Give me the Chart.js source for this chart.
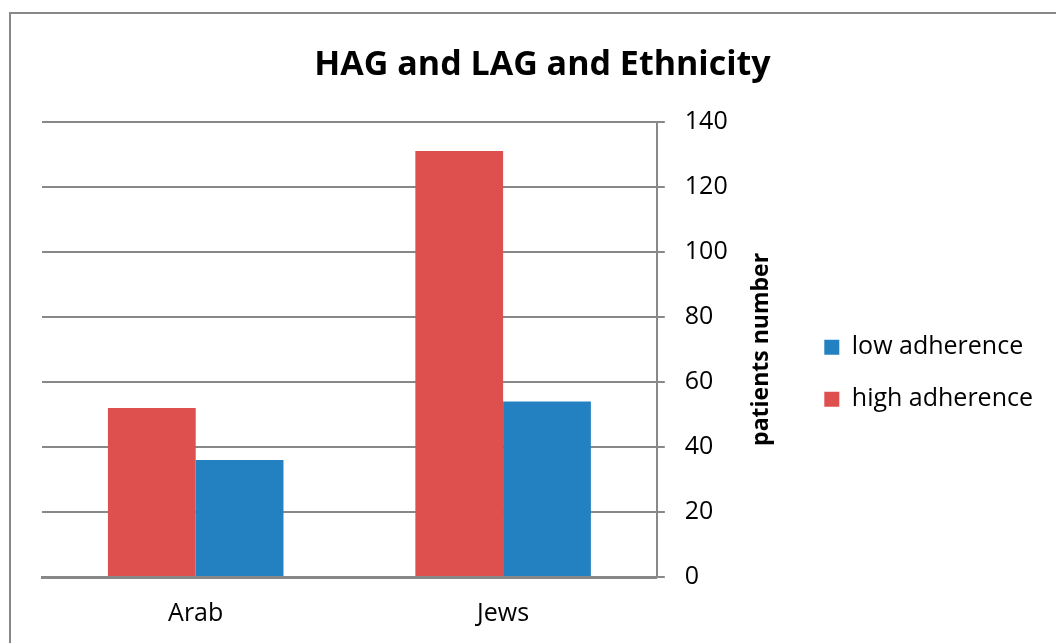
<!DOCTYPE html>
<html lang=en>
<head>
<meta charset=UTF-8>
<title>HAG and LAG and Ethnicity</title>
<style>
    * { margin: 0; padding: 0; }
    body { background: #fff; width: 1056px; height: 643px; overflow: hidden; position: relative; }
    .frame { position: absolute; left: 9px; top: 12px; width: 1100px; height: 700px; border: 2px solid #888; }
    .box { position: absolute; left: 0; top: 0; width: 1056px; height: 643px; }
</style>
</head>
<body>
<div class=frame></div>
<div class=box><canvas id="myChart" width="1056" height="643"></canvas></div>
<script src="https://cdn.jsdelivr.net/npm/chart.js"></script>
<script>
    const categories = ['Arab', 'Jews'];
    const highAdherence = [52, 131];
    const lowAdherence = [36, 54];
    const yMin = 0, yMax = 140, yStep = 20;

    const font = '"Open Sans", sans-serif';
    const gray = '#888888';
    const yTitleSize = 23, yTitlePad = 22;

    // right axis title reads bottom-to-top in the original, Chart.js rotates it the other way
    const yTitle = {
        id: 'yTitle',
        afterDraw(chart) {
            const s = chart.scales.y;
            const ctx = chart.ctx;
            ctx.save();
            ctx.font = 'bold ' + yTitleSize + 'px ' + font;
            ctx.fillStyle = '#000';
            ctx.textAlign = 'center';
            ctx.textBaseline = 'middle';
            ctx.translate(s.right - yTitlePad - yTitleSize * 1.2 / 2, (s.top + s.bottom) / 2);
            ctx.rotate(-Math.PI / 2);
            ctx.fillText('patients number', 0, 0);
            ctx.restore();
        }
    };

    Chart.defaults.font.family = font;
    Chart.defaults.color = '#000';

    new Chart(document.getElementById('myChart'), {
        type: 'bar',
        data: {
            labels: categories,
            datasets: [
                { label: 'high adherence', data: highAdherence, backgroundColor: '#DE504E' },
                { label: 'low adherence', data: lowAdherence, backgroundColor: '#2381C2' }
            ]
        },
        options: {
            responsive: false,
            animation: false,
            devicePixelRatio: 1,
            categoryPercentage: 0.571,
            barPercentage: 1,
            layout: { padding: { left: 42, right: 13, top: 45, bottom: 0 } },
            plugins: {
                title: {
                    display: true,
                    text: 'HAG and LAG and Ethnicity',
                    font: { size: 34, weight: 'bold' },
                    padding: { top: 0, bottom: 36 }
                },
                legend: {
                    position: 'right',
                    reverse: true,
                    title: { display: true, text: ' ', padding: 22 },
                    labels: {
                        boxWidth: 15,
                        boxHeight: 15,
                        padding: 27,
                        font: { size: 25 }
                    }
                },
                tooltip: { enabled: false }
            },
            scales: {
                x: {
                    grid: { display: false },
                    border: { display: true, color: gray, width: 3 },
                    ticks: { font: { size: 25 }, padding: 14 }
                },
                y: {
                    position: 'right',
                    min: yMin,
                    max: yMax,
                    ticks: { stepSize: yStep, font: { size: 25 }, padding: 20 },
                    grid: { color: gray, lineWidth: 2, tickLength: 8 },
                    border: { color: gray, width: 2 },
                    title: {
                        display: true,
                        text: 'patients number',
                        color: 'transparent',
                        font: { size: yTitleSize, weight: 'bold' },
                        padding: { top: yTitlePad, bottom: 0 }
                    }
                }
            }
        },
        plugins: [yTitle]
    });
</script>
</body>
</html>
